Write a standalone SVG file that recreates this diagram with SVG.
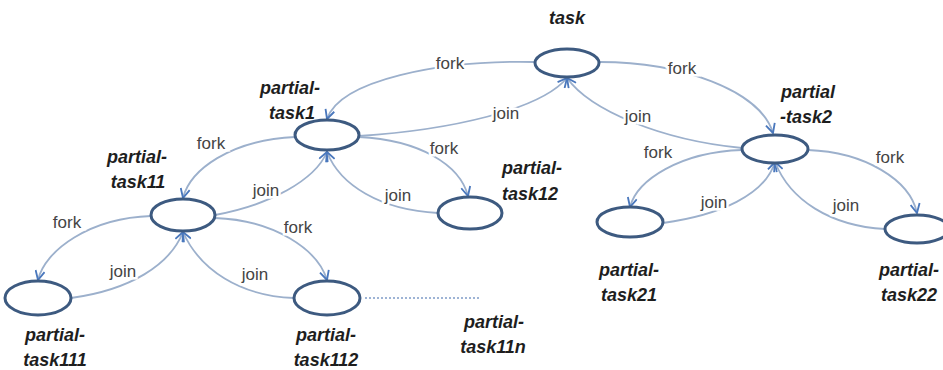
<svg xmlns="http://www.w3.org/2000/svg" width="943" height="370" viewBox="0 0 943 370">
<style>
.node{fill:#fff;stroke:#3d5a80;stroke-width:3}
.edge{fill:none;stroke:#9cb0cc;stroke-width:1.8}
.lbl{font-family:"Liberation Sans",Arial,sans-serif;font-size:17px;fill:#444;text-anchor:middle;dominant-baseline:central;stroke:#fff;stroke-width:5;paint-order:stroke}
.name{font-family:"Liberation Sans",Arial,sans-serif;font-size:18px;font-weight:bold;font-style:italic;fill:#1e1e1e;text-anchor:middle;dominant-baseline:central}
</style>
<defs>
<marker id="arr" viewBox="0 0 12 12" refX="11" refY="6" markerWidth="11" markerHeight="11" markerUnits="userSpaceOnUse" orient="auto">
<path d="M1,1 L11,6 L1,11" fill="none" stroke="#4a78bd" stroke-width="2"/>
</marker>
</defs>
<rect width="943" height="370" fill="#fff"/>
<g id="connectors">
<path class="edge" marker-end="url(#arr)" d="M534,62 C440,60 340,80 327,119"/>
<path class="edge" marker-end="url(#arr)" d="M600,62 C680,62 760,90 773,133"/>
<path class="edge" marker-end="url(#arr)" d="M359,136 C450,130 540,110 567,78"/>
<path class="edge" marker-end="url(#arr)" d="M742,148 C660,140 590,110 567,78"/>
<path class="edge" marker-end="url(#arr)" d="M295,137 C230,140 190,170 183,198"/>
<path class="edge" marker-end="url(#arr)" d="M215,215 C270,205 315,180 327,152"/>
<path class="edge" marker-end="url(#arr)" d="M359,137 C420,140 460,165 468,196"/>
<path class="edge" marker-end="url(#arr)" d="M438,213 C380,210 340,185 327,152"/>
<path class="edge" marker-end="url(#arr)" d="M151,216 C90,218 45,250 38,280"/>
<path class="edge" marker-end="url(#arr)" d="M71,298 C130,290 170,265 183,232"/>
<path class="edge" marker-end="url(#arr)" d="M215,218 C275,220 318,250 327,280"/>
<path class="edge" marker-end="url(#arr)" d="M294,298 C240,296 200,270 183,232"/>
<path class="edge" marker-end="url(#arr)" d="M742,150 C680,152 637,180 630,207"/>
<path class="edge" marker-end="url(#arr)" d="M663,223 C720,215 765,195 775,162"/>
<path class="edge" marker-end="url(#arr)" d="M808,150 C865,152 910,180 917,213"/>
<path class="edge" marker-end="url(#arr)" d="M885,229 C830,226 790,200 775,162"/>
<line x1="365" y1="298" x2="480" y2="298" stroke="#7f9cc8" stroke-width="1.5" stroke-dasharray="2,2"/>
<text class="lbl" x="450" y="63">fork</text>
<text class="lbl" x="682" y="68">fork</text>
<text class="lbl" x="506" y="113">join</text>
<text class="lbl" x="638" y="116">join</text>
<text class="lbl" x="211" y="143">fork</text>
<text class="lbl" x="266" y="190">join</text>
<text class="lbl" x="444" y="148">fork</text>
<text class="lbl" x="398" y="195">join</text>
<text class="lbl" x="67" y="222">fork</text>
<text class="lbl" x="123" y="271">join</text>
<text class="lbl" x="298" y="227">fork</text>
<text class="lbl" x="255" y="274">join</text>
<text class="lbl" x="658" y="152">fork</text>
<text class="lbl" x="714" y="202">join</text>
<text class="lbl" x="890" y="157">fork</text>
<text class="lbl" x="846" y="205">join</text>
</g>
<g id="task"><ellipse class="node" cx="567" cy="63" rx="32" ry="14"/><text class="name" x="567" y="18">task</text></g>
<g id="partial-task1"><ellipse class="node" cx="327" cy="135" rx="32" ry="15"/><text class="name" x="290" y="88">partial-</text><text class="name" x="292" y="113">task1</text></g>
<g id="partial-task2"><ellipse class="node" cx="775" cy="149" rx="33" ry="14"/><text class="name" x="808" y="92">partial</text><text class="name" x="806" y="117">-task2</text></g>
<g id="partial-task11"><ellipse class="node" cx="183" cy="215" rx="32" ry="16"/><text class="name" x="137" y="157">partial-</text><text class="name" x="138" y="182">task11</text></g>
<g id="partial-task12"><ellipse class="node" cx="470" cy="213" rx="32" ry="16"/><text class="name" x="532" y="168">partial-</text><text class="name" x="530" y="194">task12</text></g>
<g id="partial-task111"><ellipse class="node" cx="38" cy="298" rx="33" ry="17"/><text class="name" x="55" y="335">partial-</text><text class="name" x="55" y="360">task111</text></g>
<g id="partial-task112"><ellipse class="node" cx="327" cy="298" rx="33" ry="17"/><text class="name" x="326" y="335">partial-</text><text class="name" x="326" y="360">task112</text></g>
<g id="partial-task11n"><text class="name" x="494" y="322">partial-</text><text class="name" x="493" y="347">task11n</text></g>
<g id="partial-task21"><ellipse class="node" cx="630" cy="222" rx="33" ry="15"/><text class="name" x="629" y="270">partial-</text><text class="name" x="629" y="295">task21</text></g>
<g id="partial-task22"><ellipse class="node" cx="917" cy="229" rx="32" ry="14"/><text class="name" x="909" y="270">partial-</text><text class="name" x="909" y="295">task22</text></g>
</svg>
